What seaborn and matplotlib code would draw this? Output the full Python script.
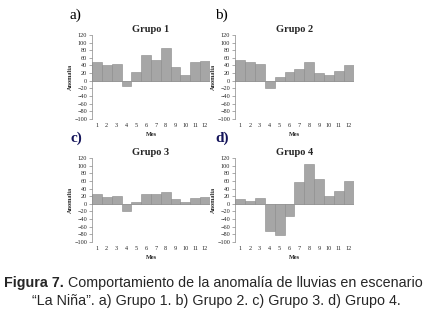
import pandas as pd
import matplotlib
matplotlib.use("Agg")
import matplotlib.pyplot as plt
import seaborn as sns

meses = [str(m) for m in range(1, 13)]
grupo1 = [48, 42, 43, -13, 24, 68, 54, 85, 37, 16, 50, 51]
grupo2 = [55, 50, 45, -20, 10, 22, 32, 48, 20, 16, 25, 42]
grupo3 = [27, 17, 21, -20, 4, 25, 25, 30, 13, 6, 16, 19]
grupo4 = [12, 8, 14, -70, -82, -33, 58, 104, 66, 21, 34, 60]
y_ticks = list(range(-100, 121, 20))

grupos = [("Grupo 1", grupo1, "a)"), ("Grupo 2", grupo2, "b)"),
          ("Grupo 3", grupo3, "c)"), ("Grupo 4", grupo4, "d)")]

sns.set_style("white")
plt.rcParams["font.family"] = ["Liberation Serif", "DejaVu Serif"]

fig = plt.figure(figsize=(4.32, 3.14), dpi=100)

# panel boxes in figure fraction: left, bottom, width, height
boxes = [(0.213, 0.621, 0.273, 0.268), (0.544, 0.621, 0.275, 0.268),
         (0.213, 0.229, 0.273, 0.268), (0.544, 0.229, 0.275, 0.268)]
letter_pos = [(0.162, 0.952), (0.498, 0.952), (0.164, 0.561), (0.498, 0.561)]

for (titulo, vals, letra), box, (lx, ly) in zip(grupos, boxes, letter_pos):
    ax = fig.add_axes(box)
    df = pd.DataFrame({"Mes": meses, "Anomalia": vals})
    sns.barplot(data=df, x="Mes", y="Anomalia", color="#a6a6a6", width=1.0,
                edgecolor="#8a8a8a", linewidth=0.4, saturation=1, ax=ax)
    ax.axhline(0, color="#9a9a9a", lw=0.5, zorder=0)
    ax.set_ylim(-100, 120)
    ax.set_xlim(-0.5, 11.5)
    ax.set_yticks(y_ticks)
    ax.tick_params(axis="y", labelsize=4.5, length=2, width=0.5, color="#888888", pad=1.5, left=True)
    ax.tick_params(axis="x", labelsize=4.5, length=0, pad=3)
    for s in ["top", "right", "bottom"]:
        ax.spines[s].set_visible(False)
    ax.spines["left"].set_color("#888888")
    ax.spines["left"].set_linewidth(0.5)
    ax.set_ylabel("Anomalía", fontsize=4.5, fontweight="bold", labelpad=1)
    ax.set_xlabel("Mes", fontsize=4.5, fontweight="bold", labelpad=3)
    ax.set_title(titulo, fontsize=7.5, fontweight="bold", pad=2)
    # panel letter
    if letra in ("c)", "d)"):
        fig.text(lx, ly, letra, fontsize=11, fontweight="bold", color="#14145a", va="center")
    else:
        fig.text(lx, ly, letra, fontsize=11, color="black", va="center")

# caption
cap = fig.add_axes([0, 0, 1, 1])
cap.axis("off")
t1 = cap.text(0.010, 1 - 283 / 314, "Figura 7.", fontsize=10.3, fontweight="bold",
              family="Liberation Sans", va="center", ha="left")
cap.annotate(" Comportamiento de la anomalía de lluvias en escenario", xy=(1, 0.5),
             xycoords=t1, va="center", ha="left", fontsize=10.3, family="Liberation Sans")
cap.text(0.5, 1 - 301 / 314, "“La Niña”. a) Grupo 1. b) Grupo 2. c) Grupo 3. d) Grupo 4.",
         fontsize=10.3, family="Liberation Sans", va="center", ha="center")

fig.savefig("out.png", dpi=100)
